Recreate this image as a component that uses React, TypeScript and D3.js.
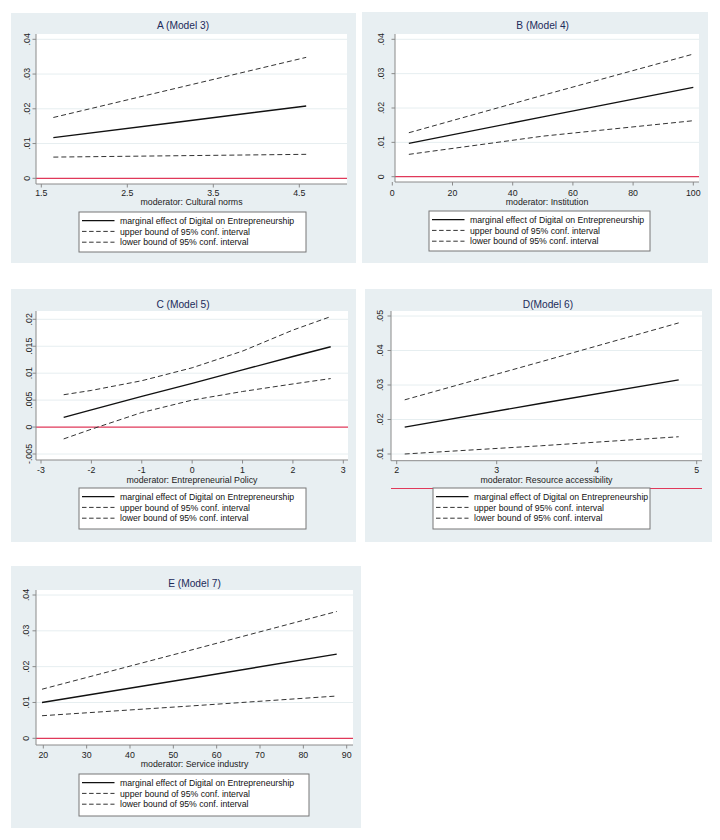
import React from "react";
import * as d3 from "d3";

// ---------- DATA ----------
const aX = [1.64, 3.1, 4.58];
const aEffect = [0.0117, 0.0162, 0.0208];
const aUpper = [0.0175, 0.0261, 0.0348];
const aLower = [0.0061, 0.0065, 0.0069];
const aXTicks = [1.5, 2.5, 3.5, 4.5];
const aYTicks = [0, 0.01, 0.02, 0.03, 0.04];

const bX = [5.5, 50, 100];
const bEffect = [0.0097, 0.0174, 0.026];
const bUpper = [0.0128, 0.0237, 0.0357];
const bLower = [0.0065, 0.0118, 0.0163];
const bXTicks = [0, 20, 40, 60, 80, 100];
const bYTicks = [0, 0.01, 0.02, 0.03, 0.04];

const cX = [-2.55, -2, -1, 0, 1, 2, 2.75];
const cEffect = [0.0018, 0.0032, 0.0057, 0.0081, 0.0106, 0.0131, 0.0149];
const cUpper = [0.006, 0.0068, 0.0086, 0.011, 0.0141, 0.018, 0.0205];
const cLower = [-0.0022, -0.0004, 0.0027, 0.005, 0.0066, 0.008, 0.009];
const cXTicks = [-3, -2, -1, 0, 1, 2, 3];
const cYTicks = [-0.005, 0, 0.005, 0.01, 0.015, 0.02];

const dX = [2.08, 3.45, 4.82];
const dEffect = [0.0178, 0.0247, 0.0315];
const dUpper = [0.0257, 0.0368, 0.048];
const dLower = [0.01, 0.0124, 0.015];
const dXTicks = [2, 3, 4, 5];
const dYTicks = [0.01, 0.02, 0.03, 0.04, 0.05];

const eX = [19.7, 53.7, 87.7];
const eEffect = [0.01, 0.0167, 0.0235];
const eUpper = [0.0137, 0.0245, 0.0354];
const eLower = [0.0063, 0.009, 0.0118];
const eXTicks = [20, 30, 40, 50, 60, 70, 80, 90];
const eYTicks = [0, 0.01, 0.02, 0.03, 0.04];

const legendLabels = [
  "marginal effect of Digital on Entrepreneurship",
  "upper bound of 95% conf. interval",
  "lower bound of 95% conf. interval",
];

// ---------- STYLE ----------
const FONT = "'Liberation Sans', Arial, Helvetica, sans-serif";
const BG = "#e8eff2";
const GRID = "#e6eef0";
const AXIS = "#8a8a8a";
const RED = "#e0395a";
const TITLE = "#1c2b5a";

const fmtY = (v: number) => (v === 0 ? "0" : String(v).replace(/^(-?)0\./, "$1."));

type PanelProps = {
  title: string;
  xTitle: string;
  xs: number[];
  effect: number[];
  upper: number[];
  lower: number[];
  xTicks: number[];
  yTicks: number[];
  bg: [number, number, number, number];
  plot: [number, number, number, number];
  xDom: [number, number];
  xRange: [number, number];
  yDom: [number, number];
  yRange: [number, number];
  titleX: number;
  titleY: number;
  tickLabY: number;
  xTitleY: number;
  yLabX: number;
  legend: [number, number, number, number];
};

function Panel(p: PanelProps) {
  const x = d3.scaleLinear().domain(p.xDom).range(p.xRange);
  const y = d3.scaleLinear().domain(p.yDom).range(p.yRange);
  const [px0, py0, px1, py1] = p.plot;
  const line = d3
    .line<[number, number]>()
    .x((d) => x(d[0]))
    .y((d) => y(d[1]));
  const mk = (vals: number[]) => line(p.xs.map((v, i) => [v, vals[i]] as [number, number])) || "";
  const [lx, ly, lw, lh] = p.legend;
  const rows = [ly + 8.6, ly + 19.4, ly + 30.2];
  const styles = [
    { w: 1.4, dash: undefined as string | undefined, c: "#111" },
    { w: 1, dash: "4.5,2.6", c: "#333" },
    { w: 1, dash: "4.5,2.6", c: "#333" },
  ];
  const xCenter = (px0 + px1) / 2;
  return (
    <g>
      <rect x={p.bg[0]} y={p.bg[1]} width={p.bg[2] - p.bg[0]} height={p.bg[3] - p.bg[1]} fill={BG} />
      <rect x={px0} y={py0} width={px1 - px0} height={py1 - py0} fill="#fff" />
      <text x={p.titleX} y={p.titleY} textAnchor="middle" fontSize={10.2} fill={TITLE} fontFamily={FONT}>
        {p.title}
      </text>
      {p.yTicks.map((t) =>
        t === 0 ? null : (
          <line key={"g" + t} x1={px0} x2={px1} y1={y(t)} y2={y(t)} stroke={GRID} strokeWidth={1} />
        )
      )}
      {y(0) >= py0 - 1 ? (
        <line x1={px0} x2={px1} y1={y(0)} y2={y(0)} stroke={RED} strokeWidth={1.2} />
      ) : null}
      {y(0) > py1 + 1 ? (
        <line x1={px0} x2={px1} y1={y(0)} y2={y(0)} stroke={RED} strokeWidth={1.2} />
      ) : null}
      {/* axes */}
      <line x1={px0} x2={px0} y1={py0} y2={py1} stroke={AXIS} strokeWidth={1} />
      <line x1={px0} x2={px1} y1={py1} y2={py1} stroke={AXIS} strokeWidth={1} />
      {p.yTicks.map((t) => (
        <g key={"y" + t}>
          <line x1={px0 - 3.5} x2={px0} y1={y(t)} y2={y(t)} stroke={AXIS} strokeWidth={1} />
          <text
            transform={`translate(${p.yLabX},${y(t)}) rotate(-90)`}
            textAnchor="middle"
            fontSize={8.8}
            fill="#222"
            fontFamily={FONT}
          >
            {fmtY(t)}
          </text>
        </g>
      ))}
      {p.xTicks.map((t) => (
        <g key={"x" + t}>
          <line x1={x(t)} x2={x(t)} y1={py1} y2={py1 + 3.5} stroke={AXIS} strokeWidth={1} />
          <text x={x(t)} y={p.tickLabY} textAnchor="middle" fontSize={8.8} fill="#222" fontFamily={FONT}>
            {String(t)}
          </text>
        </g>
      ))}
      <text x={xCenter} y={p.xTitleY} textAnchor="middle" fontSize={8.8} fill="#222" fontFamily={FONT}>
        {p.xTitle}
      </text>
      {/* series */}
      <path d={mk(p.upper)} fill="none" stroke={styles[1].c} strokeWidth={1} strokeDasharray="5,3" />
      <path d={mk(p.lower)} fill="none" stroke={styles[2].c} strokeWidth={1} strokeDasharray="5,3" />
      <path d={mk(p.effect)} fill="none" stroke={styles[0].c} strokeWidth={1.4} />
      {/* legend */}
      <rect x={lx} y={ly} width={lw} height={lh} fill="#fff" stroke="#777" strokeWidth={1} />
      {legendLabels.map((lab, i) => (
        <g key={lab}>
          <line
            x1={lx + 3}
            x2={lx + 35.5}
            y1={rows[i]}
            y2={rows[i]}
            stroke={styles[i].c}
            strokeWidth={styles[i].w}
            strokeDasharray={styles[i].dash}
          />
          <text x={lx + 41} y={rows[i] + 3.1} fontSize={8.7} fill="#111" fontFamily={FONT}>
            {lab}
          </text>
        </g>
      ))}
    </g>
  );
}

export default function App() {
  return (
    <svg
      width={720}
      height={840}
      style={{ position: "absolute", left: 0, top: 0, background: "#fff" }}
    >
      <Panel
        title="A (Model 3)"
        xTitle="moderator: Cultural norms"
        xs={aX}
        effect={aEffect}
        upper={aUpper}
        lower={aLower}
        xTicks={aXTicks}
        yTicks={aYTicks}
        bg={[11, 13, 356, 263]}
        plot={[36, 34, 347, 184]}
        xDom={[1.5, 4.5]}
        xRange={[41.3, 299.3]}
        yDom={[0, 0.04]}
        yRange={[178.3, 39.3]}
        titleX={183}
        titleY={29.3}
        tickLabY={196.3}
        xTitleY={205}
        yLabX={29.5}
        legend={[79, 212, 227, 40]}
      />
      <Panel
        title="B (Model 4)"
        xTitle="moderator: Institution"
        xs={bX}
        effect={bEffect}
        upper={bUpper}
        lower={bLower}
        xTicks={bXTicks}
        yTicks={bYTicks}
        bg={[362, 12, 708, 263]}
        plot={[395, 34, 699, 182]}
        xDom={[0, 100]}
        xRange={[392.3, 693.3]}
        yDom={[0, 0.04]}
        yRange={[176.7, 39.3]}
        titleX={542.7}
        titleY={29.3}
        tickLabY={196.3}
        xTitleY={205}
        yLabX={383.5}
        legend={[429, 211, 221, 40]}
      />
      <Panel
        title="C (Model 5)"
        xTitle="moderator: Entrepreneurial Policy"
        xs={cX}
        effect={cEffect}
        upper={cUpper}
        lower={cLower}
        xTicks={cXTicks}
        yTicks={cYTicks}
        bg={[11, 289, 356, 542]}
        plot={[36, 311, 348, 460]}
        xDom={[-3, 3]}
        xRange={[41, 343.3]}
        yDom={[-0.005, 0.02]}
        yRange={[454, 319.3]}
        titleX={183}
        titleY={307.6}
        tickLabY={473.2}
        xTitleY={482.5}
        yLabX={31.5}
        legend={[79, 488, 227, 41]}
      />
      <Panel
        title="D(Model 6)"
        xTitle="moderator: Resource accessibility"
        xs={dX}
        effect={dEffect}
        upper={dUpper}
        lower={dLower}
        xTicks={dXTicks}
        yTicks={dYTicks}
        bg={[365, 289, 712, 542]}
        plot={[391, 311, 702, 460.7]}
        xDom={[2, 5]}
        xRange={[396.7, 696.7]}
        yDom={[0.01, 0.05]}
        yRange={[454, 316]}
        titleX={548}
        titleY={307.6}
        tickLabY={472.5}
        xTitleY={482.5}
        yLabX={382.5}
        legend={[433, 488, 217, 41]}
      />
      <Panel
        title="E (Model 7)"
        xTitle="moderator: Service industry"
        xs={eX}
        effect={eEffect}
        upper={eUpper}
        lower={eLower}
        xTicks={eXTicks}
        yTicks={eYTicks}
        bg={[11, 566, 361, 828]}
        plot={[36, 590, 353, 745]}
        xDom={[20, 90]}
        xRange={[43.3, 346.7]}
        yDom={[0, 0.04]}
        yRange={[738.3, 595]}
        titleX={194.5}
        titleY={586.6}
        tickLabY={758.2}
        xTitleY={767.3}
        yLabX={28.5}
        legend={[79, 774, 230, 42]}
      />
    </svg>
  );
}
